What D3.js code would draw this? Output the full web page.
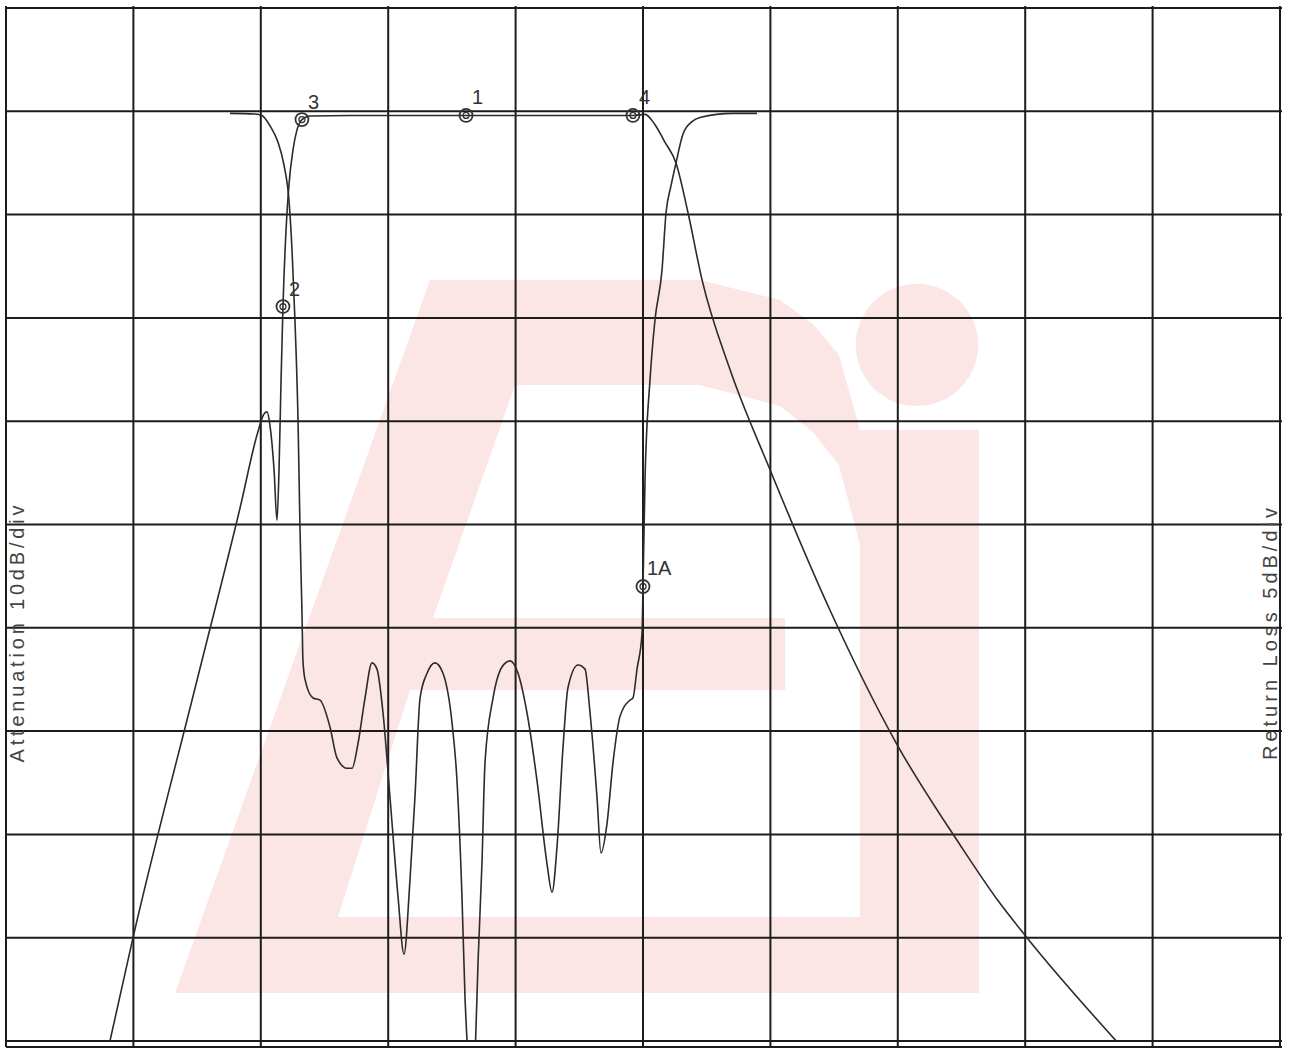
<!DOCTYPE html>
<html lang="en">
<head>
<meta charset="UTF-8">
<title>Filter response</title>
<style>
  body { margin:0; background:#fff; }
  svg { display:block; }
  .grid line { stroke:#1c1c1c; stroke-width:2; }
  .trace { fill:none; stroke:#2b2b2b; stroke-width:1.6; }
  .lbl { font-family:"Liberation Sans", Arial, sans-serif; font-size:20px; fill:#333; }
  .title { font-family:"Liberation Sans", Arial, sans-serif; font-size:20px; fill:#444; }
</style>
</head>
<body>
<script src="https://d3js.org/d3.v7.min.js"></script>
<script>
var width = 1290, height = 1051,
    plotL = 6, plotR = 1280, plotT = 8, plotB = 1041;

// frequency in grid divisions, attenuation (S21) in dB
var attFreq = [0.816, 0.997, 1.499, 1.837, 1.978, 2.025, 2.049, 2.072, 2.104, 2.127,
               2.143, 2.159, 2.174, 2.198, 2.221, 2.253, 2.284, 2.323, 2.386, 2.700,
               3.611, 4.662, 4.921, 5.016, 5.094, 5.173, 5.259, 5.353, 5.463, 5.683,
               5.997, 6.468, 6.994, 7.488, 7.786, 8.014, 8.744];
var attDb   = [90.0, 80.0, 55.1, 38.4, 31.0, 29.3, 29.1, 30.4, 34.7, 39.6,
               34.7, 26.0, 18.9, 11.5, 7.1, 3.7, 1.8, 0.8, 0.45, 0.4,
               0.4, 0.4, 0.4, 0.3, 1.3, 3.0, 5.0, 9.8, 16.3, 25.0,
               34.7, 48.3, 61.3, 71.0, 76.4, 80.0, 90.4];

// return loss (S11) in dB
var rlFreq = [1.758, 1.954, 2.009, 2.072, 2.135, 2.182, 2.221, 2.245, 2.268, 2.292,
              2.308, 2.323, 2.331, 2.347, 2.410, 2.465, 2.543, 2.598, 2.677, 2.716,
              2.763, 2.818, 2.873, 2.912, 2.959, 3.014, 3.077, 3.124, 3.171, 3.210,
              3.250, 3.305, 3.367, 3.430, 3.501, 3.540, 3.579, 3.603, 3.627, 3.650,
              3.681, 3.705, 3.736, 3.760, 3.823, 3.893, 3.956, 4.019, 4.089, 4.168,
              4.246, 4.286, 4.325, 4.372, 4.411, 4.490, 4.545, 4.584, 4.639, 4.670,
              4.717, 4.765, 4.819, 4.898, 4.921, 4.953, 4.992, 5.000, 5.016, 5.055,
              5.094, 5.149, 5.181, 5.220, 5.259, 5.314, 5.385, 5.447, 5.707, 5.895];
var rlDb   = [0.1, 0.13, 0.2, 0.7, 1.5, 2.6, 4.3, 6.7, 10.1, 14.9,
              20.3, 24.2, 26.6, 27.5, 28.4, 28.5, 29.8, 31.3, 31.8, 31.8,
              30.6, 28.4, 26.7, 27.0, 29.1, 33.2, 38.0, 40.8, 37.2, 33.2,
              28.4, 27.2, 26.7, 27.2, 29.6, 32.4, 38.0, 42.9, 45.9, 48.3,
              45.9, 41.2, 36.4, 31.5, 28.4, 26.9, 26.6, 27.2, 29.1, 32.4,
              36.4, 37.8, 35.6, 30.8, 27.9, 26.8, 27.0, 29.1, 33.2, 35.9,
              34.5, 31.5, 29.3, 28.5, 28.4, 27.0, 25.3, 23.0, 17.8, 13.0,
              10.1, 7.7, 4.9, 3.6, 2.5, 1.1, 0.5, 0.3, 0.1, 0.1];

// markers
var markerNames = ['1', '2', '3', '4', '1A'];
var markerFreq  = [3.611, 2.174, 2.323, 4.921, 5.000];
var markerDb    = [0.4, 18.9, 0.8, 0.4, 23.0];
var markerTrace = ['att', 'att', 'att', 'att', 'rl'];

var leftTitle = 'Attenuation 10dB/div',
    rightTitle = 'Return Loss 5dB/div';

// watermark outline, in grid divisions (x across, y down)
var logoOuter = [[1.327, 9.535], [3.328, 2.633], [5.447, 2.633], [6.075, 2.827], [6.334, 3.059],
                 [6.538, 3.359], [6.703, 4.085], [7.637, 4.085], [7.637, 9.535]];
var logoHoleA = [[3.352, 5.905], [3.995, 3.650], [5.447, 3.650], [6.075, 3.853], [6.334, 4.105],
                 [6.538, 4.424], [6.703, 5.198], [6.703, 5.905]];
var logoHoleB = [[2.606, 8.800], [3.171, 6.602], [6.115, 6.602], [6.115, 5.905], [6.703, 5.905], [6.703, 8.800]];
var logoDot   = [7.150, 3.262, 0.48];

var x = d3.scaleLinear().domain([0, 10]).range([plotL, plotR]);
var yAtt = d3.scaleLinear().domain([-10, 90]).range([plotT, plotB]);
var yRl = d3.scaleLinear().domain([-5, 45]).range([plotT, plotB]);
var gy = d3.scaleLinear().domain([0, 10]).range([plotT, plotB]);

var svg = d3.select('body').append('svg')
    .attr('width', width)
    .attr('height', height);

// watermark
var logo = svg.append('g').attr('class', 'logo');
var poly = d3.line().x(function(d){ return x(d[0]); }).y(function(d){ return gy(d[1]); });
logo.append('path').attr('d', poly(logoOuter) + 'Z').attr('fill', '#fce5e5');
logo.append('path').attr('d', poly(logoHoleA) + 'Z').attr('fill', '#fff');
logo.append('path').attr('d', poly(logoHoleB) + 'Z').attr('fill', '#fff');
logo.append('circle')
    .attr('cx', x(logoDot[0])).attr('cy', gy(logoDot[1]))
    .attr('r', x(logoDot[2]) - x(0))
    .attr('fill', '#fce5e5');

// grid
var grid = svg.append('g').attr('class', 'grid');
grid.selectAll('line.v')
    .data(x.ticks(10))
    .enter().append('line')
    .attr('class', 'v')
    .attr('x1', function(d){ return x(d); })
    .attr('x2', function(d){ return x(d); })
    .attr('y1', plotT - 2)
    .attr('y2', plotB + 6);
grid.selectAll('line.h')
    .data(yAtt.ticks(10))
    .enter().append('line')
    .attr('class', 'h')
    .attr('x1', plotL)
    .attr('x2', plotR + 2)
    .attr('y1', function(d){ return yAtt(d); })
    .attr('y2', function(d){ return yAtt(d); });
grid.append('line')
    .attr('x1', plotL).attr('x2', plotR + 2)
    .attr('y1', plotB + 6).attr('y2', plotB + 6);

svg.append('clipPath').attr('id', 'clip')
  .append('rect')
    .attr('x', plotL).attr('y', plotT)
    .attr('width', plotR - plotL).attr('height', plotB - plotT);

var attLine = d3.line()
    .x(function(d, i){ return x(attFreq[i]); })
    .y(function(d){ return yAtt(d); })
    .curve(d3.curveMonotoneX);
var rlLine = d3.line()
    .x(function(d, i){ return x(rlFreq[i]); })
    .y(function(d){ return yRl(d); })
    .curve(d3.curveMonotoneX);

var traces = svg.append('g').attr('clip-path', 'url(#clip)');
traces.append('path').attr('class', 'trace').attr('d', attLine(attDb));
traces.append('path').attr('class', 'trace').attr('d', rlLine(rlDb));

// markers
var mk = svg.selectAll('g.marker')
    .data(markerNames)
    .enter().append('g')
    .attr('class', 'marker')
    .attr('transform', function(d, i){
        var yy = markerTrace[i] === 'att' ? yAtt(markerDb[i]) : yRl(markerDb[i]);
        return 'translate(' + x(markerFreq[i]) + ',' + yy + ')';
    });
mk.append('circle').attr('r', 6.5).attr('fill', 'none').attr('stroke', '#333').attr('stroke-width', 1.8);
mk.append('circle').attr('r', 3).attr('fill', 'none').attr('stroke', '#333').attr('stroke-width', 1.3);
mk.append('text')
    .attr('class', 'lbl')
    .attr('x', function(d){ return d === '1A' ? 4 : 6; })
    .attr('y', -11)
    .text(function(d){ return d; });

svg.append('text')
    .attr('class', 'title')
    .attr('transform', 'translate(24,' + 634 + ') rotate(-90)')
    .attr('text-anchor', 'middle')
    .attr('textLength', 257)
    .attr('lengthAdjust', 'spacing')
    .text(leftTitle);
svg.append('text')
    .attr('class', 'title')
    .attr('transform', 'translate(1277,' + 634 + ') rotate(-90)')
    .attr('text-anchor', 'middle')
    .attr('textLength', 252)
    .attr('lengthAdjust', 'spacing')
    .text(rightTitle);
</script>
</body>
</html>
